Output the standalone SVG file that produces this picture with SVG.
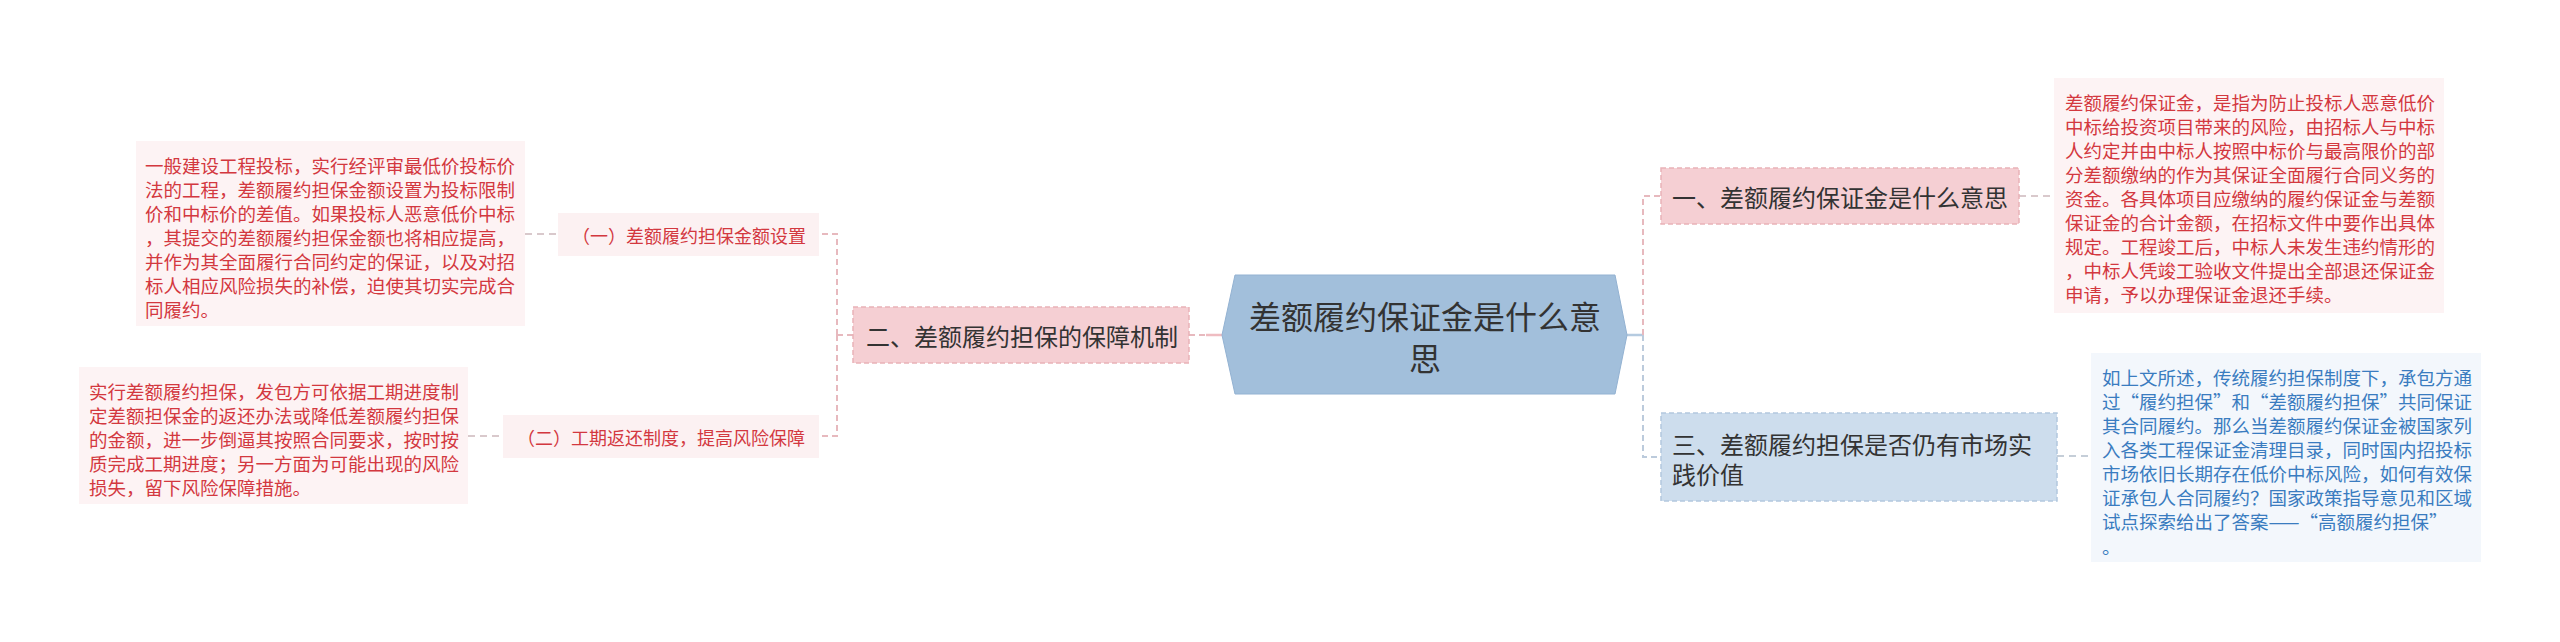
<svg xmlns="http://www.w3.org/2000/svg" width="2560" height="642" viewBox="0 0 2560 642">
<style>
text { font-family: "Noto Sans CJK SC", "Microsoft YaHei", sans-serif; dominant-baseline: central; }
.center-t { font-size: 32px; fill: #333333; text-anchor: middle; }
.branch-t { font-size: 24px; fill: #333333; }
.sub-t { font-size: 18px; fill: #d3383f; text-anchor: middle; }
.red-t { font-size: 18.5px; fill: #d3383f; }
.blue-t { font-size: 18.5px; fill: #3a7cc0; }
.pink-box { fill: #f5cfd3; stroke: #e9b3b8; stroke-width: 1.5; stroke-dasharray: 5 3; }
.blue-box { fill: #cddded; stroke: #b3c8de; stroke-width: 1.5; stroke-dasharray: 5 3; }
.sub-box { fill: #fcf1f2; }
.red-detail { fill: #fdf3f4; }
.blue-detail { fill: #f3f7fc; }
.c-pink { fill: none; stroke: #e7b9be; stroke-width: 2; stroke-dasharray: 6 4; }
.c-blue { fill: none; stroke: #bccbdc; stroke-width: 2; stroke-dasharray: 6 4; }
.c-grey { fill: none; stroke: #d9c9cc; stroke-width: 2; stroke-dasharray: 7 5; }
.c-greyb { fill: none; stroke: #c5ced8; stroke-width: 2; stroke-dasharray: 7 5; }
</style>

<g id="connectors">
  <line x1="1206" y1="335" x2="1222" y2="335" stroke="#efbcc1" stroke-width="2.5"/>
  <line x1="1189" y1="335" x2="1206" y2="335" class="c-pink"/>
  <path d="M853 335 H837" class="c-pink"/>
  <path d="M837 335 V234 H820" class="c-pink"/>
  <path d="M837 335 V436 H820" class="c-pink"/>
  <line x1="525" y1="234" x2="558" y2="234" class="c-grey"/>
  <line x1="468" y1="436" x2="503" y2="436" class="c-grey"/>
  <line x1="1627" y1="335" x2="1643" y2="335" stroke="#b5cbe0" stroke-width="2.5"/>
  <path d="M1643 335 V196 H1661" class="c-pink"/>
  <path d="M1643 335 V457 H1661" class="c-blue"/>
  <line x1="2019" y1="196" x2="2054" y2="196" class="c-grey"/>
  <line x1="2057" y1="456" x2="2091" y2="456" class="c-greyb"/>
</g>

<g id="center">
  <polygon points="1222,335 1235,275 1615,275 1627,335 1615,394 1235,394" fill="#a2bfdb" stroke="#93b2d2" stroke-width="1"/>
  <text class="center-t" x="1425" y="315">差额履约保证金是什么意</text>
  <text class="center-t" x="1425" y="357">思</text>
</g>

<g id="branch1">
  <rect x="1661" y="168" width="358" height="56" class="pink-box"/>
  <text class="branch-t" x="1672" y="196">一、差额履约保证金是什么意思</text>
</g>

<g id="detail1">
  <rect x="2054" y="78" width="390" height="235" class="red-detail"/>
  <text class="red-t" x="2065" y="102">差额履约保证金，是指为防止投标人恶意低价</text>
  <text class="red-t" x="2065" y="126">中标给投资项目带来的风险，由招标人与中标</text>
  <text class="red-t" x="2065" y="150">人约定并由中标人按照中标价与最高限价的部</text>
  <text class="red-t" x="2065" y="174">分差额缴纳的作为其保证全面履行合同义务的</text>
  <text class="red-t" x="2065" y="198">资金。各具体项目应缴纳的履约保证金与差额</text>
  <text class="red-t" x="2065" y="222">保证金的合计金额，在招标文件中要作出具体</text>
  <text class="red-t" x="2065" y="246">规定。工程竣工后，中标人未发生违约情形的</text>
  <text class="red-t" x="2065" y="270">，中标人凭竣工验收文件提出全部退还保证金</text>
  <text class="red-t" x="2065" y="294">申请，予以办理保证金退还手续。</text>
</g>

<g id="branch3">
  <rect x="1661" y="413" width="396" height="88" class="blue-box"/>
  <text class="branch-t" x="1672" y="443">三、差额履约担保是否仍有市场实</text>
  <text class="branch-t" x="1672" y="473">践价值</text>
</g>

<g id="detail3">
  <rect x="2091" y="353" width="390" height="209" class="blue-detail"/>
  <text class="blue-t" x="2102" y="377">如上文所述，传统履约担保制度下，承包方通</text>
  <text class="blue-t" x="2102" y="401">过“履约担保”和“差额履约担保”共同保证</text>
  <text class="blue-t" x="2102" y="425">其合同履约。那么当差额履约保证金被国家列</text>
  <text class="blue-t" x="2102" y="449">入各类工程保证金清理目录，同时国内招投标</text>
  <text class="blue-t" x="2102" y="473">市场依旧长期存在低价中标风险，如何有效保</text>
  <text class="blue-t" x="2102" y="497">证承包人合同履约？国家政策指导意见和区域</text>
  <text class="blue-t" x="2102" y="521">试点探索给出了答案——“高额履约担保”</text>
  <text class="blue-t" x="2102" y="546">。</text>
</g>

<g id="branch2">
  <rect x="853" y="307" width="336" height="56" class="pink-box"/>
  <text class="branch-t" x="866" y="335">二、差额履约担保的保障机制</text>
</g>

<g id="sub1">
  <rect x="558" y="213" width="261" height="43" class="sub-box"/>
  <text class="sub-t" x="689" y="235">（一）差额履约担保金额设置</text>
</g>

<g id="sub1-detail">
  <rect x="136" y="141" width="389" height="185" class="red-detail"/>
  <text class="red-t" x="145" y="165">一般建设工程投标，实行经评审最低价投标价</text>
  <text class="red-t" x="145" y="189">法的工程，差额履约担保金额设置为投标限制</text>
  <text class="red-t" x="145" y="213">价和中标价的差值。如果投标人恶意低价中标</text>
  <text class="red-t" x="145" y="237">，其提交的差额履约担保金额也将相应提高，</text>
  <text class="red-t" x="145" y="261">并作为其全面履行合同约定的保证，以及对招</text>
  <text class="red-t" x="145" y="285">标人相应风险损失的补偿，迫使其切实完成合</text>
  <text class="red-t" x="145" y="309">同履约。</text>
</g>

<g id="sub2">
  <rect x="503" y="415" width="316" height="43" class="sub-box"/>
  <text class="sub-t" x="661" y="437">（二）工期返还制度，提高风险保障</text>
</g>

<g id="sub2-detail">
  <rect x="79" y="367" width="389" height="137" class="red-detail"/>
  <text class="red-t" x="89" y="391">实行差额履约担保，发包方可依据工期进度制</text>
  <text class="red-t" x="89" y="415">定差额担保金的返还办法或降低差额履约担保</text>
  <text class="red-t" x="89" y="439">的金额，进一步倒逼其按照合同要求，按时按</text>
  <text class="red-t" x="89" y="463">质完成工期进度；另一方面为可能出现的风险</text>
  <text class="red-t" x="89" y="487">损失，留下风险保障措施。</text>
</g>
</svg>
